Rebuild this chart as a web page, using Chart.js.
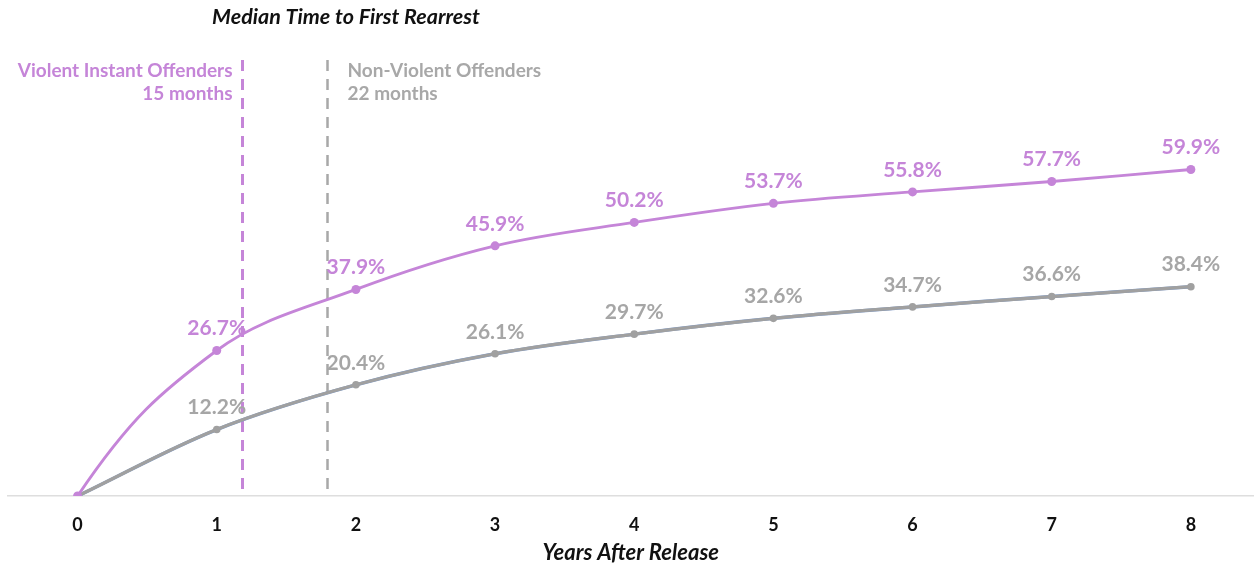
<!DOCTYPE html>
<html><head><meta charset="utf-8">
<script src="https://cdn.jsdelivr.net/npm/chart.js@4/dist/chart.umd.min.js"></script>
<style>html,body{margin:0;padding:0;background:#fff;}#wrap{width:1258px;height:567px;}</style>
</head><body><div id="wrap"><canvas id="c" width="1258" height="567"></canvas></div>
<script>
const years = [0,1,2,3,4,5,6,7,8];
const violent = [0,26.7,37.9,45.9,50.2,53.7,55.8,57.7,59.9];
const nonViolent = [0,12.2,20.4,26.1,29.7,32.6,34.7,36.6,38.4];
const medianX = [1.18, 1.79];
const medianLabels = [["Violent Instant Offenders","15 months"],["Non-Violent Offenders","22 months"]];
const titleText = "Median Time to First Rearrest";
const xTitle = "Years After Release";

const VIOLET = '#c585d8';
const GRAY = '#a0a0a0';
const FONT = 'Lato, "Open Sans", sans-serif';

// Steeper start tangent for the smoothed violet line (Excel-like end condition)
const smoothEnds = {
  id:'smoothEnds',
  beforeDatasetsDraw(chart){
    chart.data.datasets.forEach((ds,i)=>{
      if(!ds.parabolicStart) return;
      const meta = chart.getDatasetMeta(i);
      const line = meta.dataset;
      if(!line || !line.updateControlPoints) return;
      line.updateControlPoints(chart.chartArea, 'x');
      const pts = meta.data;
      if(pts.length<3) return;
      const p0=pts[0], p1=pts[1];
      const dx = p1.x - p0.x;
      const d0 = (p1.y - p0.y)/dx;
      const m1 = (p1.y - p1.cp1y)/(p1.x - p1.cp1x);
      const m0 = 1.1*(2*d0 - m1);
      p0.cp2x = p0.x + dx*0.38;
      p0.cp2y = p0.y + m0*dx*0.38;
      line._path = undefined;
    });
  }
};

const overlay = {
  id:'overlay',
  beforeDatasetsDraw(chart){
    const {ctx, chartArea, scales:{x}} = chart;
    ctx.save();
    const cols=[VIOLET,'#a8a8a8'];
    medianX.forEach((v,i)=>{
      const px = Math.round(x.getPixelForValue(v))+0.5;
      ctx.strokeStyle=cols[i]; ctx.lineWidth=i===0?3:2.5;
      ctx.setLineDash([11,8]);
      ctx.beginPath(); ctx.moveTo(px,chartArea.top); ctx.lineTo(px,chartArea.bottom); ctx.stroke();
      ctx.setLineDash([]);
      ctx.font='bold 19px '+FONT; ctx.fillStyle=cols[i]; ctx.textBaseline='middle';
      ctx.textAlign = i===0?'right':'left';
      const tx = i===0? px-10 : px+20;
      medianLabels[i].forEach((t,j)=>ctx.fillText(t,tx,chartArea.top+11+j*23));
    });
    ctx.restore();
  },
  afterDatasetsDraw(chart){
    const {ctx} = chart;
    ctx.save();
    ctx.font='bold 21px '+FONT; ctx.textAlign='center'; ctx.textBaseline='middle';
    [[0,VIOLET],[1,'#a6a6a6']].forEach(([di,col])=>{
      const meta=chart.getDatasetMeta(di);
      const data=chart.data.datasets[di].data;
      meta.data.forEach((pt,k)=>{
        if(k===0) return;
        ctx.fillStyle=col;
        ctx.fillText(data[k].toFixed(1)+'%', pt.x, pt.y-22);
      });
    });
    ctx.font='italic bold 21.5px '+FONT; ctx.fillStyle='#111';
    ctx.fillText(titleText, 346, 17);
    ctx.restore();
  }
};

new Chart(document.getElementById('c'),{
  type:'line',
  data:{
    labels:years,
    datasets:[
      {label:'Violent',data:violent,borderColor:VIOLET,backgroundColor:VIOLET,borderWidth:2.9,pointRadius:4.5,pointBorderWidth:0,tension:0.35,parabolicStart:true},
      {label:'Non-Violent',data:nonViolent,borderColor:GRAY,backgroundColor:GRAY,borderWidth:3.2,pointRadius:3.8,pointBorderWidth:0,tension:0.35},
      {label:'dup',data:nonViolent,borderColor:'#7f9ccb',borderWidth:3.5,pointRadius:0,tension:0.35}
    ]
  },
  options:{
    responsive:false,animation:false,
    layout:{padding:{top:60,left:8,right:0,bottom:0}},
    plugins:{legend:{display:false},tooltip:{enabled:false},title:{display:false}},
    scales:{
      x:{type:'linear',min:-0.5,max:8.45,
        grid:{display:false,drawTicks:false},
        border:{display:true,color:'#dedede',width:1.5},
        afterBuildTicks(s){s.ticks=years.map(v=>({value:v}));},
        afterFit(s){s.height=71;},
        ticks:{padding:18,color:'#111',font:{family:FONT,size:18,weight:'bold'}},
        title:{display:true,text:xTitle,color:'#111',font:{family:FONT,size:22,weight:'bold',style:'italic'},padding:{top:4,bottom:1}}
      },
      y:{display:false,min:0,max:80}
    }
  },
  plugins:[smoothEnds, overlay]
});
</script></body></html>
